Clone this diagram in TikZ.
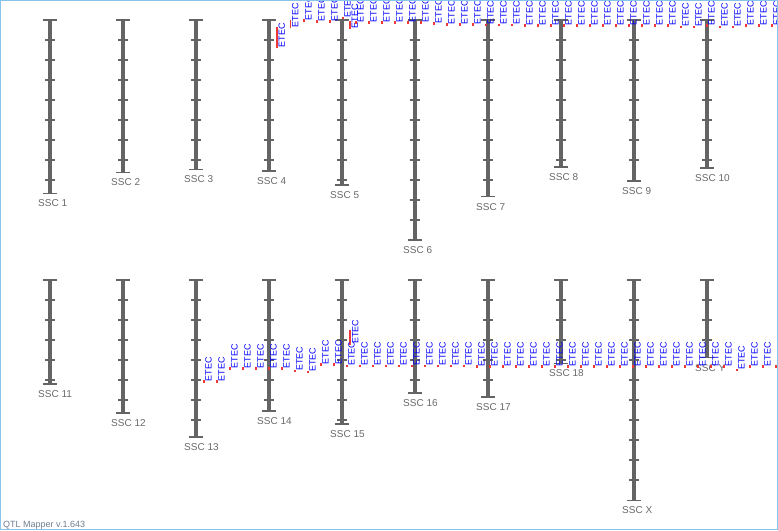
\documentclass[tikz,border=0pt]{standalone}
\usepackage{fontspec}
\setmainfont{Liberation Sans}
\definecolor{chromc}{RGB}{100,100,100}
\definecolor{labc}{RGB}{105,105,105}
\definecolor{qtlblue}{RGB}{0,0,255}
\definecolor{qtlred}{RGB}{240,55,55}
\definecolor{framec}{RGB}{135,195,235}
\definecolor{footc}{RGB}{110,125,145}
\begin{document}
\begin{tikzpicture}[x=1pt,y=-1pt,
  chrlab/.style={font=\fontsize{10}{12}\selectfont, text=labc, anchor=west, inner sep=0pt},
  etec/.style={font=\fontsize{9}{10}\selectfont, text=qtlblue, rotate=90, anchor=north west, inner sep=0pt},
  mk/.style={fill=qtlred, draw=none},
  tickln/.style={draw=chromc, line width=1.1pt}]
\useasboundingbox (0,0) rectangle (778,530);
\clip (0,0) rectangle (778,530);
% chromosomes
\foreach \i/\x/\t/\b/\n in {
  1/50/20/193.3/SSC 1, 2/123/20/172.3/SSC 2, 3/196/20/169.3/SSC 3, 4/269/20/171/SSC 4,
  5/342/20/185/SSC 5, 6/415/20/240/SSC 6, 7/488/20/196.7/SSC 7, 8/561/20/167/SSC 8,
  9/634/20/181/SSC 9, 10/707/20/168/SSC 10,
  11/50/280/384/SSC 11, 12/123/280/413/SSC 12, 13/196/280/437/SSC 13, 14/269/280/411/SSC 14,
  15/342/280/424/SSC 15, 16/415/280/393/SSC 16, 17/488/280/397/SSC 17, 18/561/280/363.3/SSC 18,
  19/634/280/500.3/SSC X, 20/707/280/357.7/SSC Y}{
  \fill[chromc] (\x-2.1,\t) rectangle (\x+2.1,\b);
  \draw[tickln] (\x-7,\t) -- (\x+7,\t);
  \draw[tickln] (\x-7,\b) -- (\x+7,\b);
  \pgfmathtruncatemacro\nt{floor((\b-\t-2)/20)}
  \foreach \k in {1,...,\nt} {\draw[tickln] (\x-5,\t+20*\k) -- (\x+5,\t+20*\k);}
  \node[chrlab] (lab\i) at (\x-12,\b+10) {\n};
}
% top row QTL labels: bars
\foreach \x/\ya/\yb [count=\c] in {276/27/47.7, 289.5/20/27.7, 349/21/29}{
  \fill[mk] (\x,\ya) rectangle (\x+1.8,\yb);
  \node[etec] (tb\c) at (\x+2.5,\yb-0.3) {ETEC};
}
% top row QTL labels: points
\foreach \x/\y [count=\c] in {302.5/19, 315.5/20, 328.5/20, 341.5/16.5, 354.5/21, 367.5/21,
  380.5/21, 393.5/21, 406.5/21, 419.5/21, 432.5/22, 445.5/23, 458.5/23, 471.5/23,
  484.5/23.5, 497.5/23.5, 510.5/23.5, 523.5/24, 536.5/24, 549.5/24, 562.5/24, 575.5/24,
  588.5/24, 601.5/24, 614.5/24, 627.5/24, 640.5/24, 653.5/24, 666.5/24, 679.5/25.5,
  692.5/25.5, 705.5/24, 718.5/25.5, 731.5/25.5, 744.5/24, 757.5/24, 770.5/24}{
  \fill[mk] (\x,\y) rectangle (\x+2,\y+2.5);
  \node[etec] (tp\c) at (\x+2.7,\y+1.5) {ETEC};
}
% bottom row QTL labels: bar
\fill[mk] (349.3,330) rectangle (351.1,345);
\node[etec] (bb1) at (351.8,344) {ETEC};
% bottom row QTL labels: points
\foreach \x/\y [count=\c] in {202.5/380, 215.5/380, 228.5/367, 241.5/367, 254.5/367,
  267.5/367, 280.5/367, 293.5/369.5, 306.5/370.5, 319.5/363, 332.5/363, 345.5/364.5,
  358.5/364.5, 371.5/364.5, 384.5/364.5, 397.5/364.5, 410.5/364.5, 423.5/364.5,
  436.5/364.5, 449.5/364.5, 462.5/364.5, 475.5/365, 488.5/365, 501.5/365, 514.5/365,
  527.5/365, 540.5/365, 553.5/365, 566.5/365, 579.5/365, 592.5/365, 605.5/365,
  618.5/365, 631.5/365, 644.5/365, 657.5/365, 670.5/365, 683.5/365, 696.5/365,
  709.5/365, 722.5/365, 735.5/368.5, 748.5/365, 761.5/365, 774.5/365}{
  \fill[mk] (\x,\y) rectangle (\x+2,\y+2.5);
  \node[etec] (bp\c) at (\x+2.7,\y+1.5) {ETEC};
}
% footer
\node[anchor=base west, font=\fontsize{9}{10}\selectfont, text=footc, inner sep=0pt] (foot) at (3,527) {QTL Mapper v.1.643};
% frame
\draw[framec, line width=1pt] (0.5,0.5) rectangle (777.5,529.5);
\end{tikzpicture}
\end{document}
